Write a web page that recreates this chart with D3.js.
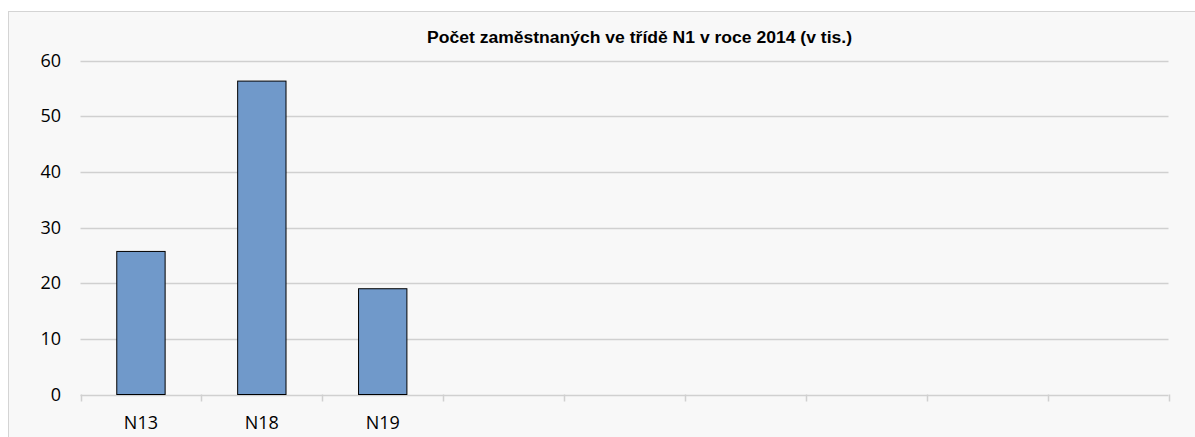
<!DOCTYPE html>
<html>
<head>
<meta charset="utf-8">
<script src="https://cdn.jsdelivr.net/npm/d3@7"></script>
<style>
  body { margin: 0; background: #ffffff; }
  svg { display: block; }
  .tick-label { font-family: "Open Sans", "Liberation Sans", sans-serif; font-size: 18px; fill: #000; }
  .chart-title { font-family: "Liberation Sans", Arial, sans-serif; font-weight: bold; font-size: 16px; fill: #000; }
</style>
</head>
<body>
<div class="chart"></div>
<script>
// chart data
var title = "Počet zaměstnaných ve třídě N1 v roce 2014 (v tis.)";
var categories = ["N13", "N18", "N19", "c4", "c5", "c6", "c7", "c8", "c9"];
var labels = ["N13", "N18", "N19", "", "", "", "", "", ""];
var values = [25.7, 56.3, 19.0, null, null, null, null, null, null];
var yTicks = [0, 10, 20, 30, 40, 50, 60];

var width = 1195, height = 437;
// plot area edges (note: "top" is reserved by window, so use plot* names)
var plotLeft = 80.5, plotRight = 1168.5, plotTop = 60.5, plotBottom = 394.5;

var svg = d3.select('.chart')
	.append('svg')
	.attr('width', width)
	.attr('height', height);

// chart area frame and background
svg.append('rect')
	.attr('x', 8.5)
	.attr('y', 11.5)
	.attr('width', 1300)
	.attr('height', 600)
	.attr('fill', '#f8f8f8')
	.attr('stroke', '#d4d4d4')
	.attr('stroke-width', 1);

var x = d3.scaleBand()
	.domain(categories)
	.range([plotLeft, plotRight])
	.paddingInner(0.6)
	.paddingOuter(0.3);

var y = d3.scaleLinear()
	.domain([0, 60])
	.range([plotBottom, plotTop]);

// horizontal gridlines
svg.append('g')
	.selectAll('line')
	.data(yTicks)
	.enter()
	.append('line')
	.attr('x1', plotLeft)
	.attr('x2', plotRight)
	.attr('y1', function(d) { return Math.round(y(d)) + 0.5; })
	.attr('y2', function(d) { return Math.round(y(d)) + 0.5; })
	.attr('stroke', '#d0d0d0')
	.attr('stroke-width', 1.5);

// y labels
svg.append('g')
	.selectAll('text')
	.data(yTicks)
	.enter()
	.append('text')
	.attr('class', 'tick-label')
	.attr('x', 61)
	.attr('y', function(d) { return y(d); })
	.attr('dy', '.35em')
	.attr('text-anchor', 'end')
	.text(function(d) { return d; });

// category boundary ticks under the axis
var step = x.step();
var bounds = d3.range(categories.length + 1).map(function(i) { return plotLeft + i * step; });
svg.append('g')
	.selectAll('line')
	.data(bounds)
	.enter()
	.append('line')
	.attr('x1', function(d) { return Math.round(d) + 0.5; })
	.attr('x2', function(d) { return Math.round(d) + 0.5; })
	.attr('y1', plotBottom)
	.attr('y2', plotBottom + 7)
	.attr('stroke', '#d0d0d0')
	.attr('stroke-width', 1.5);

// bars
svg.append('g')
	.selectAll('rect')
	.data(categories.filter(function(c, i) { return values[i] != null; }))
	.enter()
	.append('rect')
	.attr('x', function(d) { return x(d); })
	.attr('y', function(d) { return y(values[categories.indexOf(d)]); })
	.attr('width', x.bandwidth())
	.attr('height', function(d) { return plotBottom - y(values[categories.indexOf(d)]); })
	.attr('fill', '#7099ca')
	.attr('stroke', '#000')
	.attr('stroke-width', 1);

// x labels
svg.append('g')
	.selectAll('text')
	.data(categories)
	.enter()
	.append('text')
	.attr('class', 'tick-label')
	.attr('x', function(d) { return x(d) + x.bandwidth() / 2; })
	.attr('y', 429)
	.attr('text-anchor', 'middle')
	.text(function(d, i) { return labels[i]; });

// title
svg.append('text')
	.attr('class', 'chart-title')
	.attr('x', 427)
	.attr('y', 43)
	.attr('textLength', 425)
	.attr('lengthAdjust', 'spacingAndGlyphs')
	.text(title);
</script>
</body>
</html>
